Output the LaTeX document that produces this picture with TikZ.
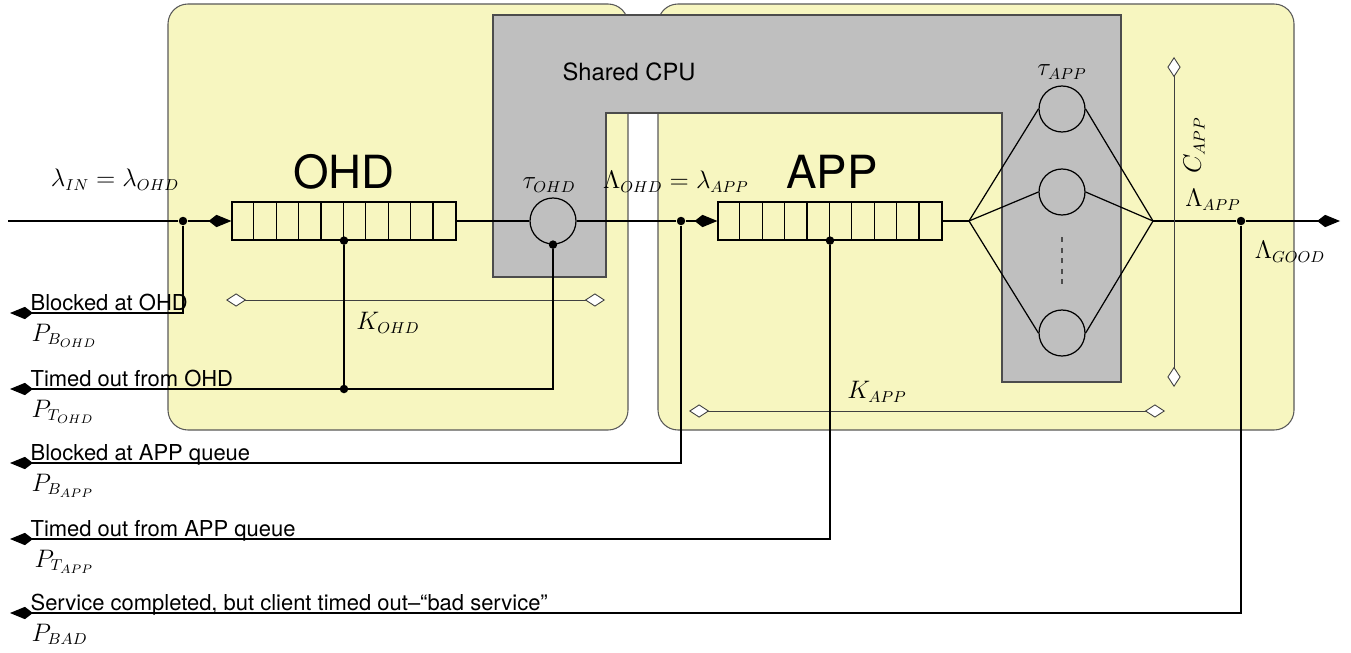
\documentclass[tikz,border=0pt]{standalone}
\usepackage{amsmath}
\usepackage{fontspec}
\setmainfont{TeX Gyre Heros}
\usetikzlibrary{arrows.meta, positioning, calc}

\definecolor{boxyellow}{HTML}{F7F6C0}
\definecolor{cpugray}{HTML}{BFBFBF}

\begin{document}
\begin{tikzpicture}[
    x=0.02cm, y=-0.02cm,
    font=\fontsize{12.5}{15}\selectfont,
    line width=0.7pt,
    subsys/.style={draw=black!65, line width=0.6pt, fill=boxyellow, rounded corners=0.4cm},
    queue/.style={rectangle, draw, minimum width=4.48cm, minimum height=0.76cm, inner sep=0pt},
    server/.style={circle, draw, minimum size=0.92cm, inner sep=0pt},
    junc/.style={circle, fill, inner sep=0pt, minimum size=0.17cm},
    big/.style={font=\fontsize{26}{31}\selectfont},
    rate/.style={font=\fontsize{13.5}{16}\selectfont},
    lbl/.style={anchor=base west, inner sep=0pt},
    dim/.style={{Diamond[fill=white, length=11.5pt, width=7.5pt]}-{Diamond[fill=white, length=11.5pt, width=7.5pt]},
                draw=black!75, line width=0.5pt},
    >={Kite[length=13pt, width=7pt, inset=4.5pt]}
]
\useasboundingbox (0,0) rectangle (1351,652);

% the two subsystems and the CPU they share
\draw[subsys] (168,4) rectangle (628,430);
\draw[subsys] (658,4) rectangle (1294,430);
\draw[fill=cpugray, draw=black!70, line width=0.6pt]
    (493,15) -- (1121,15) -- (1121,382) -- (1002,382) -- (1002,113)
    -- (606,113) -- (606,277) -- (493,277) -- cycle;
\node[font=\fontsize{13.5}{16}\selectfont] (cpu) at (629,72) {Shared CPU};

% main path
\coordinate (in) at (8,221);
\node[junc] (jin) at (183,221) {};
\node[queue] (ohdq) at (344,221) {};
\node[server] (ohds) at (553,221) {};
\node[junc] (jmid) at (681,221) {};
\node[queue] (appq) at (830,221) {};
\coordinate (fanl) at (969,221);
\node[server] (s1) at (1062,109) {};
\node[server] (s2) at (1062,192) {};
\node[server] (s3) at (1062,333) {};
\coordinate (fanr) at (1153,221);
\node[junc] (jout) at (1241,221) {};
\coordinate (out) at (1340,221);

\foreach \i in {1,...,9} {
    \draw ([xshift=\i*0.448cm]ohdq.south west) -- ([xshift=\i*0.448cm]ohdq.north west);
    \draw ([xshift=\i*0.448cm]appq.south west) -- ([xshift=\i*0.448cm]appq.north west);
}
\node[junc] (ohdqd) at (ohdq.south) {};
\node[junc] (ohdsd) at (ohds.south) {};
\node[junc] (appqd) at (appq.south) {};

\node[big] (ohd) at (344,172) {OHD};
\node[big] (app) at (832,172) {APP};

\draw (in) -- (jin);
\draw[->] (jin) -- (ohdq.west);
\draw (ohdq.east) -- (ohds.west);
\draw (ohds.east) -- (jmid);
\draw[->] (jmid) -- (appq.west);
\draw (appq.east) -- (fanl);
\foreach \s in {s1,s2,s3} {
    \draw (fanl) -- (\s.west);
    \draw (\s.east) -- (fanr);
}
\draw[dashed, black!70] (1062,237) -- (1062,288);
\draw (fanr) -- (jout);
\draw[->] (jout) -- (out);

% rates
\node[rate] (lin) at (115,180) {$\lambda_{IN}=\lambda_{OHD}$};
\node[rate] (tohd) at (549,185) {$\tau_{OHD}$};
\node[rate] (lmid) at (676,182) {$\Lambda_{OHD}=\lambda_{APP}$};
\node[rate] (tapp) at (1062,72) {$\tau_{APP}$};
\node[rate] (lapp) at (1213,200) {$\Lambda_{APP}$};
\node[rate] (lgood) at (1290,252) {$\Lambda_{GOOD}$};

% capacities
\coordinate (kohda) at (226,300);
\coordinate (kohdb) at (605,300);
\draw[dim] (kohda) -- (kohdb);
\node[rate] (kohd) at (388,323) {$K_{OHD}$};
\coordinate (kappa) at (689,411);
\coordinate (kappb) at (1165,411);
\draw[dim] (kappa) -- (kappb);
\node[rate] (kapp) at (877,392) {$K_{APP}$};
\coordinate (cappa) at (1174,57);
\coordinate (cappb) at (1174,387);
\draw[dim] (cappa) -- (cappb);
\node[rate, rotate=90] (capp) at (1194,145) {$C_{APP}$};

% losses
\coordinate (e1) at (10,313);
\coordinate (e2) at (10,389);
\coordinate (e3) at (10,463);
\coordinate (e4) at (10,539);
\coordinate (e5) at (10,613);
\draw[->] (jin) |- (e1);
\draw[->] (ohdsd) |- (e2);
\draw (ohdqd) -- (ohdqd |- e2) node[junc] (ohdj) {};
\draw[->] (jmid) |- (e3);
\draw[->] (appqd) |- (e4);
\draw[->] (jout) |- (e5);

\node[lbl] (b1) at (30,310) {Blocked at OHD};
\node[lbl, rate] (p1) at (31,341) {$P_{B_{OHD}}$};
\node[lbl] (b2) at (30,386) {Timed out from OHD};
\node[lbl, rate] (p2) at (31,417) {$P_{T_{OHD}}$};
\node[lbl] (b3) at (30,460) {Blocked at APP queue};
\node[lbl, rate] (p3) at (31,491) {$P_{B_{APP}}$};
\node[lbl] (b4) at (30,536) {Timed out from APP queue};
\node[lbl, rate] (p4) at (34,567) {$P_{T_{APP}}$};
\node[lbl] (b5) at (30,610) {Service completed, but client timed out--``bad service''};
\node[lbl, rate] (p5) at (31,641) {$P_{BAD}$};

\end{tikzpicture}
\end{document}
